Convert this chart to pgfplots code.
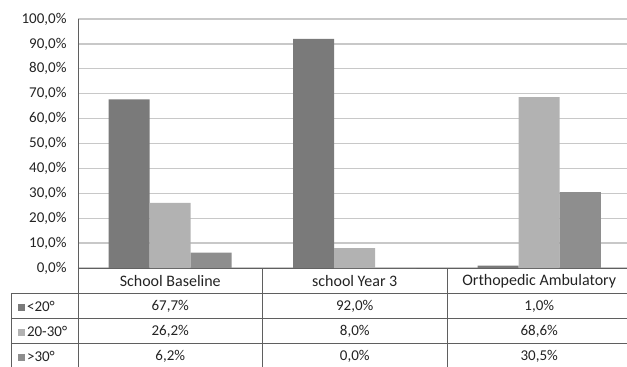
\documentclass[border=0pt]{standalone}
\usepackage{pgfplots}
\pgfplotsset{compat=1.18}
\usepackage{fontspec}
\setmainfont{Carlito}
\definecolor{cA}{RGB}{122,122,122}
\definecolor{cB}{RGB}{178,178,178}
\definecolor{cC}{RGB}{142,142,142}
\definecolor{txt}{RGB}{35,35,35}
\definecolor{gridc}{RGB}{200,200,200}
\definecolor{linec}{RGB}{95,95,95}
\newcommand\f{\fontsize{15}{16}\selectfont}
\newcommand\fc{\fontsize{16}{17}\selectfont}
\begin{document}
\begin{tikzpicture}
\path[use as bounding box] (-78pt,-99pt) rectangle (549pt,268pt);
\begin{axis}[
 scale only axis, width=553.5pt, height=249pt,
 at={(0pt,0pt)}, anchor=south west,
 ybar=0pt, bar width=41pt,
 xmin=-0.5, xmax=2.5, ymin=0, ymax=100,
 xtick=\empty,
 ytick={0,10,...,100},
 ymajorgrids, grid style={gridc, line width=1.3pt},
 axis x line*=bottom, axis y line*=left,
 axis line style={linec, line width=0.8pt, -},
 major tick length=0pt,
 yticklabel style={font=\f, text=txt, xshift=-8pt},
 yticklabel={\pgfmathprintnumber[fixed,fixed zerofill,precision=1,use comma,assume math mode=true]{\tick}\%},
 clip=false,
]
\addplot[fill=cA, draw=none] coordinates {(0,67.7) (1,92.0) (2,1.0)};
\addplot[fill=cB, draw=none] coordinates {(0,26.2) (1,8.0) (2,68.6)};
\addplot[fill=cC, draw=none] coordinates {(0,6.2) (1,0.0) (2,30.5)};
% table grid
\draw[linec, line width=0.8pt] (axis cs:-0.5,0) -- ([yshift=-99pt]axis cs:-0.5,0);
\draw[linec, line width=0.8pt] (axis cs:0.5,0) -- ([yshift=-99pt]axis cs:0.5,0);
\draw[linec, line width=0.8pt] (axis cs:1.5,0) -- ([yshift=-99pt]axis cs:1.5,0);
\draw[linec, line width=0.8pt] (axis cs:2.5,0) -- ([yshift=-99pt]axis cs:2.5,0);
\draw[linec, line width=0.8pt] ([xshift=-67pt,yshift=-25pt]axis cs:-0.5,0) -- ([xshift=-67pt,yshift=-99pt]axis cs:-0.5,0);
\draw[linec, line width=0.8pt] ([xshift=-67pt,yshift=-25pt]axis cs:-0.5,0) -- ([yshift=-25pt]axis cs:2.5,0);
\draw[linec, line width=0.8pt] ([xshift=-67pt,yshift=-50pt]axis cs:-0.5,0) -- ([yshift=-50pt]axis cs:2.5,0);
\draw[linec, line width=0.8pt] ([xshift=-67pt,yshift=-75pt]axis cs:-0.5,0) -- ([yshift=-75pt]axis cs:2.5,0);
% category row
\node[font=\fc, text=txt] at ([yshift=-13pt]axis cs:0,0) {School Baseline};
\node[font=\fc, text=txt] at ([yshift=-13pt]axis cs:1,0) {school Year 3};
\node[font=\fc, text=txt] at ([yshift=-13pt]axis cs:2,0) {Orthopedic Ambulatory};
% row labels
\node[font=\f, text=txt, anchor=west] at ([xshift=-64pt,yshift=-38pt]axis cs:-0.5,0) {\textcolor{cA}{\rule{7pt}{7pt}}\,<20°};
\node[font=\f, text=txt, anchor=west] at ([xshift=-64pt,yshift=-63pt]axis cs:-0.5,0) {\textcolor{cB}{\rule{7pt}{7pt}}\,20-30°};
\node[font=\f, text=txt, anchor=west] at ([xshift=-64pt,yshift=-88pt]axis cs:-0.5,0) {\textcolor{cC}{\rule{7pt}{7pt}}\,>30°};
% values
\node[font=\f, text=txt] at ([yshift=-38pt]axis cs:0,0) {67,7\%};
\node[font=\f, text=txt] at ([yshift=-38pt]axis cs:1,0) {92,0\%};
\node[font=\f, text=txt] at ([yshift=-38pt]axis cs:2,0) {1,0\%};
\node[font=\f, text=txt] at ([yshift=-63pt]axis cs:0,0) {26,2\%};
\node[font=\f, text=txt] at ([yshift=-63pt]axis cs:1,0) {8,0\%};
\node[font=\f, text=txt] at ([yshift=-63pt]axis cs:2,0) {68,6\%};
\node[font=\f, text=txt] at ([yshift=-88pt]axis cs:0,0) {6,2\%};
\node[font=\f, text=txt] at ([yshift=-88pt]axis cs:1,0) {0,0\%};
\node[font=\f, text=txt] at ([yshift=-88pt]axis cs:2,0) {30,5\%};
\end{axis}
\end{tikzpicture}
\end{document}
